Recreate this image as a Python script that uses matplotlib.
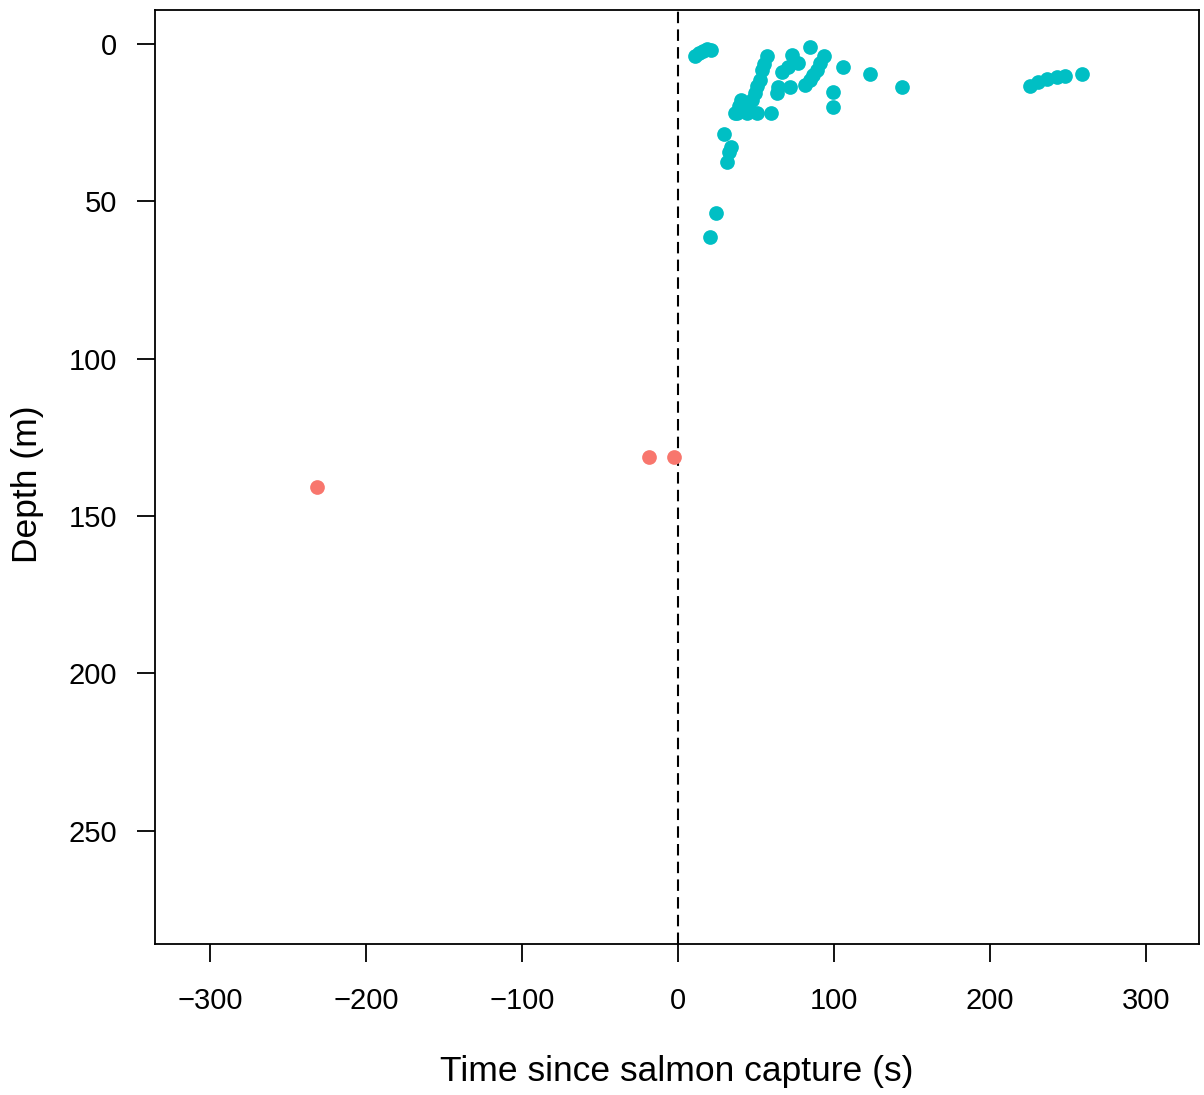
"""
Depth vs time since salmon capture: scatter before/after capture.
"""

import matplotlib

matplotlib.use("Agg")
import matplotlib.pyplot as plt

# --- Data ---
before_time = [-231.4, -18.6, -2.6]
before_depth = [140.8, 131.2, 131.2]

after_time = [
    10.9, 13.5, 16.0, 18.6, 21.2,
    57.0, 55.0, 54.0, 52.6, 50.6, 49.4, 47.4, 44.9, 40.4, 39.0, 37.8,
    36.5, 44.0, 50.6, 59.6,
    73.0, 77.0, 70.5, 67.0, 72.0, 64.0, 63.5,
    84.6, 93.6, 91.0, 89.0, 86.5, 84.6, 81.4,
    105.8, 123.0, 143.6, 99.4, 99.4,
    29.5, 34.0, 32.7, 31.4, 24.4, 20.5,
    225.6, 230.8, 236.5, 243.0, 248.0, 259.0,
]
after_depth = [
    3.8, 2.9, 2.2, 1.6, 1.9,
    3.8, 6.4, 8.3, 11.4, 13.3, 15.6, 17.8, 19.0, 17.8, 19.7, 21.9,
    21.9, 21.9, 21.9, 21.9,
    3.5, 6.0, 7.3, 9.0, 13.6, 13.6, 15.6,
    1.0, 3.8, 6.0, 8.3, 9.8, 11.4, 13.0,
    7.3, 9.6, 13.6, 15.2, 20.0,
    28.6, 32.7, 34.3, 37.5, 53.7, 61.3,
    13.3, 12.0, 11.1, 10.5, 10.2, 9.6,
]

x_ticks = [-300, -200, -100, 0, 100, 200, 300]
y_ticks = [0, 50, 100, 150, 200, 250]

plt.rcParams["font.family"] = ["Liberation Sans", "DejaVu Sans"]


def main():
    fig = plt.figure(figsize=(12.04, 10.95), dpi=100)
    ax = fig.add_axes([0.1287, 0.1379, 0.8671, 0.853])

    ax.scatter(before_time, before_depth, s=112, color="#F8766D", linewidths=0, zorder=3)
    ax.scatter(after_time, after_depth, s=112, color="#00BFC4", linewidths=0, zorder=3)

    # moment of capture
    ax.axvline(0, color="black", linestyle=(0, (5.5, 3)), linewidth=1.5, zorder=2)

    ax.set_xlim(-335.3, 334.0)
    ax.set_ylim(286.0, -10.8)
    ax.set_xticks(x_ticks)
    ax.set_yticks(y_ticks)
    ax.set_xticklabels([str(v).replace("-", "\u2212") for v in x_ticks])

    ax.tick_params(direction="out", length=13, width=1.3, labelsize=21, color="black")
    ax.tick_params(axis="x", pad=18)
    ax.tick_params(axis="y", pad=14)
    for sp in ax.spines.values():
        sp.set_linewidth(1.3)

    # axis titles placed in figure coords
    fig.text(0.5623, 1 - 1081 / 1095, "Time since salmon capture (s)", fontsize=25.5,
             ha="center", va="baseline")
    fig.text(28 / 1204, 1 - 484 / 1095, "Depth (m)", fontsize=25.5, rotation=90,
             ha="center", va="center")

    fig.savefig("out.png", dpi=100)


if __name__ == "__main__":
    main()
